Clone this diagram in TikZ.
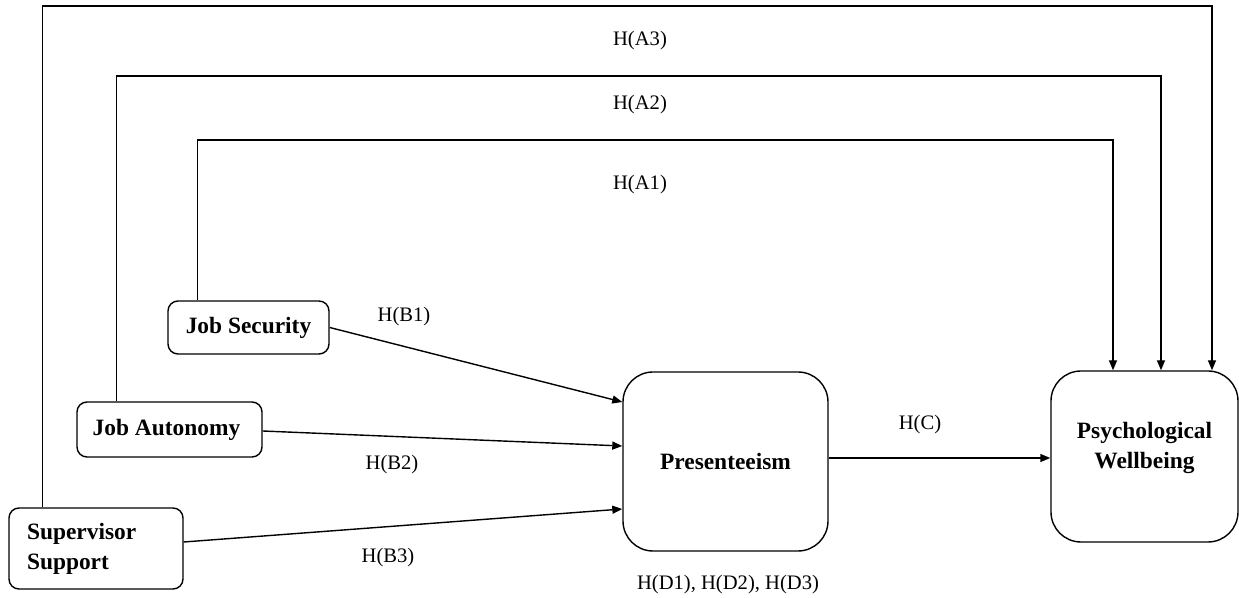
\documentclass[tikz,border=0pt]{standalone}
\usepackage{fontspec}
\setmainfont{Liberation Serif}
\usetikzlibrary{arrows.meta}
\begin{document}
\begin{tikzpicture}[x=0.5pt,y=-0.5pt,
  box/.style={draw, line width=0.7pt, rounded corners=5pt, inner sep=0pt, align=center,
    font=\bfseries\fontsize{11.7}{15}\selectfont},
  bigbox/.style={box, rounded corners=15pt},
  lbl/.style={font=\fontsize{10.3}{12}\selectfont, inner sep=0pt},
  conn/.style={line width=0.7pt, -{Triangle[length=5pt,width=4pt]}}]
\useasboundingbox (0,0) rectangle (1239,598);
% nodes
\node[box, minimum width=80.5pt, minimum height=26.5pt] (js) at (248.5,327.5) {Job Security};
\node[box, minimum width=92.5pt, minimum height=27.5pt] (ja) at (169.5,429.5) {\hspace{-3pt}Job Autonomy};
\node[box, minimum height=40.5pt, text width=69pt, inner xsep=9pt, align=left] (ss) at (96,548.5) {Supervisor\\Support};
\node[bigbox, minimum width=102.5pt, minimum height=89.5pt] (pres) at (725.5,461.5) {Presenteeism};
\node[bigbox, minimum width=93.5pt, minimum height=85.5pt] (pw) at (1144.5,456.5) {\raisebox{0pt}[\height][\dimexpr\depth+9pt\relax]{\begin{tabular}{@{}c@{}}Psychological\\Wellbeing\end{tabular}}};
% corner coordinates
\coordinate (c3) at (1212,6);
\coordinate (c2) at (1161,76);
\coordinate (c1) at (1113,140);
% direct paths
\draw[conn] (js.east) -- ([yshift=29.75pt]pres.west);
\draw[conn] ([yshift=-0.75pt]ja.east) -- ([yshift=7.75pt]pres.west);
\draw[conn] ([yshift=3.25pt]ss.east) -- ([yshift=-23.75pt]pres.west);
\draw[conn] ([yshift=1.75pt]pres.east) -- ([yshift=-0.75pt]pw.west);
% top paths
\draw[conn] ([xshift=17pt]ss.north west) |- (c3) -- (c3 |- pw.north);
\draw[conn] ([xshift=20pt]ja.north west) |- (c2) -- (c2 |- pw.north);
\draw[conn] ([xshift=15pt]js.north west) |- (c1) -- (c1 |- pw.north);
% labels
\node[lbl] (la3) at (640,41) {H(A3)};
\node[lbl] (la2) at (640,105) {H(A2)};
\node[lbl] (la1) at (640,185) {H(A1)};
\node[lbl] (lb1) at (404,317) {H(B1)};
\node[lbl] (lb2) at (392,465) {H(B2)};
\node[lbl] (lb3) at (388,558) {H(B3)};
\node[lbl] (lc) at (920,425) {H(C)};
\node[lbl] (ld) at (728,585) {H(D1), H(D2), H(D3)};
\end{tikzpicture}
\end{document}
